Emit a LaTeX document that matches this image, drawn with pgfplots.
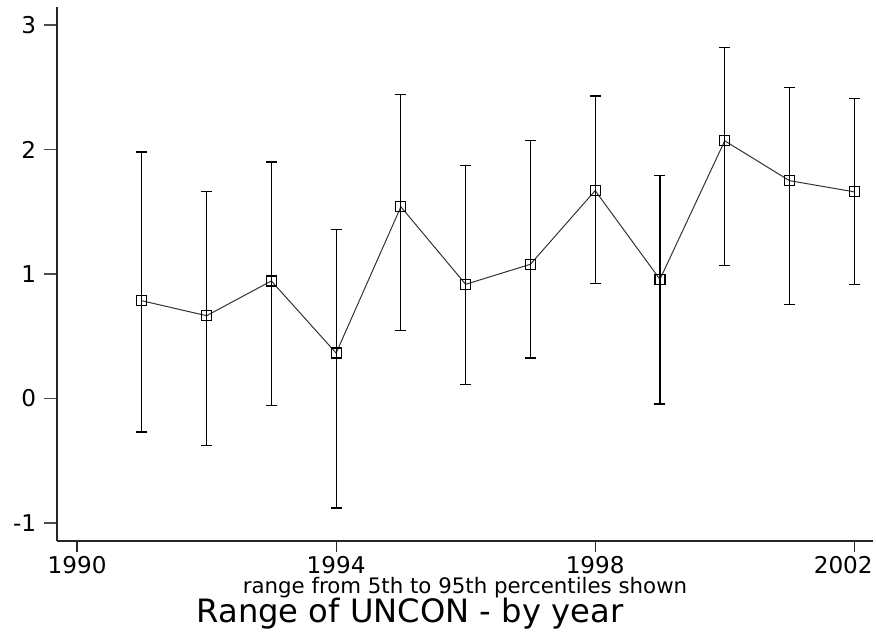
\documentclass[border=0pt]{standalone}
\usepackage{pgfplots}
\usepackage{pgfplotstable}
\pgfplotsset{compat=1.18}
\usepackage{fontspec}
\setmainfont{DejaVu Sans}
\pgfplotstableread{
year c lo hi
1991 0.785 -0.270 1.98
1992 0.665 -0.380 1.66
1993 0.944 -0.055 1.90
1994 0.365 -0.880 1.36
1995 1.540 0.548 2.44
1996 0.917 0.114 1.87
1997 1.078 0.325 2.07
1998 1.670 0.925 2.43
1999 0.957 -0.044 1.79
2000 2.070 1.067 2.82
2001 1.750 0.757 2.50
2002 1.660 0.917 2.41
}\data
\begin{document}
\begin{tikzpicture}
\begin{axis}[
 scale only axis, width=408bp, height=267bp,
 xmin=1989.69, xmax=2002.29, ymin=-1.145, ymax=3.145,
 axis lines*=left,
 axis line style={line width=0.6bp, black!85, -},
 xtick={1990,1994,1998,2002}, xticklabels={1990,1994,1998,\hspace*{-11bp}2002},
 ytick={-1,0,1,2,3}, yticklabels={-1,0,1,2,3},
 tick align=outside,
 xtick style={black!85, line width=0.6bp},
 ytick style={black!70, line width=0.6bp},
 x tick style={/pgfplots/major tick length=5.5bp},
 y tick style={/pgfplots/major tick length=6.5bp},
 ticklabel style={font=\fontsize{11.6}{13}\selectfont},
 xticklabel style={inner sep=0pt, yshift=-3bp},
 yticklabel style={inner sep=0pt, xshift=-6bp},
 clip=false,
]
\addplot[black!80, line width=0.5bp, mark=square, mark size=2.5bp,
  mark options={solid, line width=0.6bp, black},
  error bars/.cd, y dir=both, y explicit,
  error bar style={line width=0.6bp, black},
  error mark options={rotate=90, mark size=2.75bp, line width=0.6bp, black}]
  table[x=year, y=c, y error plus expr=\thisrow{hi}-\thisrow{c}, y error minus expr=\thisrow{c}-\thisrow{lo}] {\data};
\node[anchor=base, yshift=-26bp, font=\fontsize{10.7}{13}\selectfont] at (rel axis cs:0.5,0) {range from 5th to 95th percentiles shown};
\node[anchor=base, yshift=-40.5bp, font=\fontsize{16.15}{19}\selectfont] at (rel axis cs:0.4326,0) {Range of UNCON - by year};
\path (rel axis cs:0,0) ++(-28.5bp,-46bp);
\path (rel axis cs:1,1) ++(1.5bp,3.5bp);
\end{axis}
\end{tikzpicture}
\end{document}
